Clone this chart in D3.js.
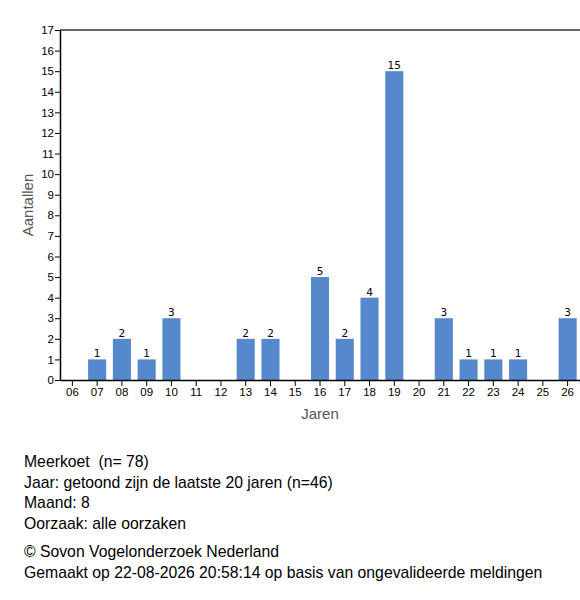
<!DOCTYPE html>
<html>
<head>
<meta charset="utf-8">
<script src="https://cdn.jsdelivr.net/npm/d3@7"></script>
<style>
  body { margin: 0; background: #fff; }
  svg { display: block; }
</style>
</head>
<body>
<svg width="580" height="600"></svg>
<script>
// years on the x axis, counts per year
var years = ["06","07","08","09","10","11","12","13","14","15","16","17","18","19","20","21","22","23","24","25","26"];
var counts = [0,1,2,1,3,0,0,2,2,0,5,2,4,15,0,3,1,1,1,0,3];
var yTicks = d3.range(0, 18);

var infoLines = [
  "Meerkoet  (n= 78)",
  "Jaar: getoond zijn de laatste 20 jaren (n=46)",
  "Maand: 8",
  "Oorzaak: alle oorzaken"
];
var creditLines = [
  "\u00A9 Sovon Vogelonderzoek Nederland",
  "Gemaakt op 22-08-2026 20:58:14 op basis van ongevalideerde meldingen"
];

var svg = d3.select('svg');
var plotLeft = 60, plotRight = 580, plotTop = 30, plotBottom = 380;

var scaleX = d3.scaleBand().domain(years).range([plotLeft, plotRight]).paddingInner(0.27).paddingOuter(0.135);
var scaleY = d3.scaleLinear().domain([0, 17]).range([plotBottom, plotTop]);

// top border line
svg.append('line')
    .attr('x1', plotLeft).attr('x2', plotRight)
    .attr('y1', plotTop).attr('y2', plotTop)
    .attr('stroke', '#333').attr('stroke-width', 1.5);

// bars
svg.selectAll('.bar')
    .data(counts)
    .enter()
    .append('rect')
    .attr('class', 'bar')
    .attr('x', function(d, i){ return scaleX(years[i]); })
    .attr('width', scaleX.bandwidth())
    .attr('y', function(d){ return scaleY(d); })
    .attr('height', function(d){ return plotBottom - scaleY(d); })
    .attr('fill', '#5588cc');

// value labels above bars (skip the empty years)
counts.forEach(function(d, i){
    if (d > 0) {
        svg.append('text')
            .attr('x', scaleX(years[i]) + scaleX.bandwidth() / 2)
            .attr('y', scaleY(d) - 2)
            .attr('text-anchor', 'middle')
            .style('font-family', 'DejaVu Sans, sans-serif')
            .style('font-size', '10.5px')
            .attr('fill', '#000')
            .text(d);
    }
});

// y axis
var yAxis = svg.append('g')
    .attr('transform', 'translate(' + plotLeft + ',0)')
    .call(d3.axisLeft(scaleY).tickValues(yTicks).tickSize(5).tickSizeOuter(0));

// x axis
var xAxis = svg.append('g')
    .attr('transform', 'translate(0,' + plotBottom + ')')
    .call(d3.axisBottom(scaleX).tickSize(6).tickSizeOuter(0));

[yAxis, xAxis].forEach(function(ax){
    ax.selectAll('text')
        .style('font-family', 'Liberation Sans, Arial, sans-serif')
        .style('font-size', '11.5px')
        .attr('fill', '#000');
    ax.select('.domain').attr('stroke', '#000').attr('stroke-width', 1.5);
    ax.selectAll('.tick line').attr('stroke', '#000');
});
yAxis.selectAll('text').attr('x', -6);
xAxis.selectAll('text').attr('y', 8);

// axis titles
svg.append('text')
    .text('Jaren')
    .attr('x', 320).attr('y', 419)
    .attr('text-anchor', 'middle')
    .style('font-family', 'Liberation Sans, Arial, sans-serif')
    .style('font-size', '15px')
    .attr('fill', '#555');

svg.append('text')
    .text('Aantallen')
    .attr('transform', 'translate(33,205)rotate(270)')
    .attr('text-anchor', 'middle')
    .style('font-family', 'Liberation Sans, Arial, sans-serif')
    .style('font-size', '15px')
    .attr('fill', '#555');

// info text below the chart
infoLines.forEach(function(t, i){
    svg.append('text')
        .text(t)
        .attr('x', 24).attr('y', 467 + i * 20.5)
        .style('white-space', 'pre')
        .style('font-family', 'Liberation Sans, Arial, sans-serif')
        .style('font-size', '15.75px')
        .attr('fill', '#000');
});
creditLines.forEach(function(t, i){
    svg.append('text')
        .text(t)
        .attr('x', 24).attr('y', 557 + i * 20.5)
        .style('font-family', 'Liberation Sans, Arial, sans-serif')
        .style('font-size', '15.75px')
        .attr('fill', '#000');
});
</script>
</body>
</html>
